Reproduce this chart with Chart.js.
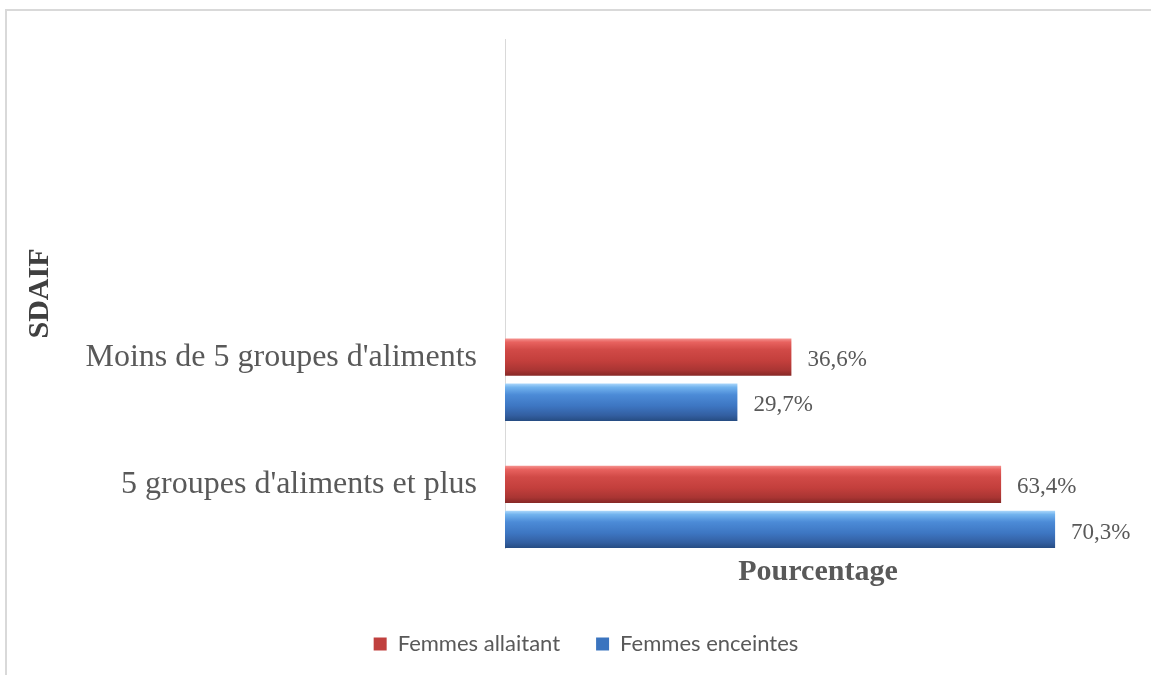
<!DOCTYPE html>
<html>
<head>
<meta charset="utf-8">
<script src="https://cdn.jsdelivr.net/npm/chart.js@4.4.1/dist/chart.umd.min.js"></script>
<style>
  html, body { margin: 0; padding: 0; background: #ffffff; }
  #frame { position: absolute; left: 5px; top: 9px; width: 1300px; height: 800px;
           border-left: 2px solid #d9d9d9; border-top: 2px solid #d9d9d9; }
  #c { position: absolute; left: 0; top: 0; }
</style>
</head>
<body>
<div id="frame"></div>
<canvas id="c" width="1151" height="675"></canvas>
<script>
// ---- data ----
const categories = ['', '', "Moins de 5 groupes d'aliments", "5 groupes d'aliments et plus"];
const seriesNames = ['Femmes allaitant', 'Femmes enceintes'];
const allaitant = [null, null, 36.6, 63.4];
const enceintes = [null, null, 29.7, 70.3];
const spacer = [null, null, null, null]; // empty slot (3D depth offset of the original)
const axisTitleX = 'Pourcentage';
const axisTitleY = 'SDAIF';
const xMax = 80;

const serif = "'Liberation Serif', 'Times New Roman', serif";

const gradStops = {
  red: [[0, '#f59491'], [0.1, '#e8625f'], [0.3, '#d14a47'], [0.6, '#c33f3c'], [0.85, '#a93533'], [1, '#862826']],
  blue: [[0, '#abd7fb'], [0.1, '#72b3ee'], [0.3, '#4c8bd7'], [0.6, '#3d76c2'], [0.85, '#335fa1'], [1, '#264c82']]
};

const gradientPlugin = {
  id: 'barGradient',
  beforeDatasetDraw(chart, args) {
    const ds = chart.data.datasets[args.index];
    if (!ds.gradKey) return;
    const ctx = chart.ctx;
    args.meta.data.forEach(el => {
      const p = el.getProps(['x', 'y', 'base', 'height'], true);
      if (!isFinite(p.y) || !isFinite(p.height)) return;
      const top = p.y - p.height / 2;
      const g = ctx.createLinearGradient(0, top, 0, top + p.height);
      gradStops[ds.gradKey].forEach(s => g.addColorStop(s[0], s[1]));
      el.options = Object.assign({}, el.options, { backgroundColor: g });
    });
  }
};

const valueLabelPlugin = {
  id: 'valueLabels',
  afterDatasetsDraw(chart) {
    const ctx = chart.ctx;
    ctx.save();
    ctx.font = '23px ' + serif;
    ctx.fillStyle = '#595959';
    ctx.textAlign = 'left';
    ctx.textBaseline = 'middle';
    chart.data.datasets.forEach((ds, i) => {
      if (!ds.gradKey) return;
      const meta = chart.getDatasetMeta(i);
      meta.data.forEach((el, j) => {
        const v = ds.data[j];
        if (v === null || v === undefined) return;
        const p = el.getProps(['x', 'y'], true);
        ctx.fillText(v.toFixed(1).replace('.', ',') + '%', p.x + 16, p.y + 3);
      });
    });
    ctx.restore();
  }
};

new Chart(document.getElementById('c'), {
  type: 'bar',
  data: {
    labels: categories,
    datasets: [
      { label: '', data: spacer, backgroundColor: 'rgba(0,0,0,0)' },
      { label: seriesNames[0], data: allaitant, backgroundColor: '#c0403e', gradKey: 'red', borderWidth: 0 },
      { label: seriesNames[1], data: enceintes, backgroundColor: '#3b74bf', gradKey: 'blue', borderWidth: 0 }
    ]
  },
  options: {
    indexAxis: 'y',
    responsive: false,
    animation: false,
    categoryPercentage: 1.063,
    barPercentage: 0.83,
    layout: { padding: { left: 41, right: 20, top: 39, bottom: 10 } },
    scales: {
      x: {
        min: 0, max: xMax,
        grid: { display: false, drawTicks: false },
        border: { display: false },
        ticks: { display: false },
        title: {
          display: true, text: axisTitleX, color: '#595959',
          font: { family: serif, size: 30, weight: 'bold' },
          padding: { top: 6, bottom: 7 }
        },
        afterFit(scale) { scale.height = 49; }
      },
      y: {
        type: 'category',
        offset: true,
        grid: { display: false, drawTicks: true, tickLength: 28 },
        border: { display: true, color: '#d9d9d9', width: 1 },
        ticks: {
          color: '#595959', padding: 0, autoSkip: false,
          font: { family: serif, size: 32 }
        },
        title: {
          display: true, text: axisTitleY, color: '#404040',
          font: { family: serif, size: 30, weight: 'bold' },
          padding: { top: -19, bottom: 0 }
        },
        afterFit(scale) { scale.width = 464; }
      }
    },
    plugins: {
      legend: {
        position: 'bottom',
        maxHeight: 78,
        labels: {
          boxWidth: 13, boxHeight: 13, padding: 36,
          color: '#595959',
          font: { family: "Lato, 'Liberation Sans', sans-serif", size: 22 },
          filter: item => item.datasetIndex !== 0
        }
      },
      tooltip: { enabled: false }
    }
  },
  plugins: [gradientPlugin, valueLabelPlugin]
});
</script>
</body>
</html>
